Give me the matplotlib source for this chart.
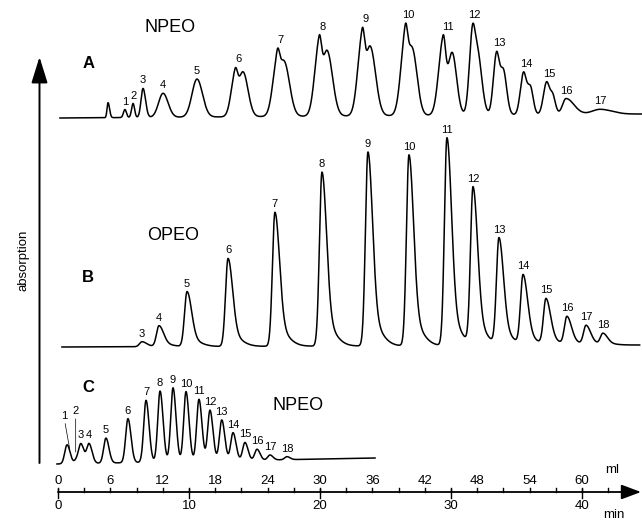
import numpy as np
import matplotlib
matplotlib.use('Agg')
import matplotlib.pyplot as plt

plt.rcParams['font.family'] = ['Liberation Sans', 'DejaVu Sans']

# pixel per minute of the time axis (peak widths below are given in pixels)
PX = 13.1

# --- trace A: NPEO ---
# label, retention time [min], apparent height, left / right width [px]
a_lab = ['', '1', '2', '3', '4', '5', '6', '7', '8', '9', '10', '11', '12', '13', '14', '15', '16', '17']
a_t = [3.82, 5.11, 5.73, 6.49, 8.02, 10.61, 13.51, 16.72, 19.92, 23.21, 26.49, 29.39, 31.60, 33.44, 35.50, 37.25, 38.78, 41.37]
a_h = [15, 8, 14, 29, 24, 38, 48, 66, 80, 87, 90, 80, 87, 62, 42, 32, 16, 5]
a_sl = [1.0, 1.5, 1.5, 2.0, 4.5, 5.0, 4.0, 4.5, 4.5, 4.5, 4.5, 4.5, 3.0, 3.0, 3.0, 3.0, 3.5, 8.0]
a_sr = [1.5, 1.5, 1.5, 2.5, 5.0, 5.5, 5.0, 5.5, 5.5, 5.5, 5.0, 4.5, 4.5, 3.5, 3.0, 3.0, 8.0, 12.0]
# shoulders on the right flank of the main peaks (0 = none)
a_sh_t = [0, 0, 0, 0, 0, 0, 14.12, 17.25, 20.53, 23.82, 27.02, 30.08, 31.98, 33.97, 36.03, 37.71, 0, 0]
a_sh_h = [0, 0, 0, 0, 0, 0, 45, 56, 66, 70, 69, 63, 73, 47, 30, 23, 0, 0]
a_base = [403, 407]

# --- trace B: OPEO ---
b_lab = ['3', '4', '5', '6', '7', '8', '9', '10', '11', '12', '13', '14', '15', '16', '17', '18']
b_t = [6.41, 7.71, 9.85, 12.98, 16.56, 20.15, 23.66, 26.79, 29.69, 31.68, 33.66, 35.5, 37.25, 38.85, 40.31, 41.6]
b_h = [5, 21, 55, 88, 134, 174, 194, 191, 208, 159, 108, 71, 47, 29, 20, 12]
b_base = [174, 176]

# --- trace C: NPEO, short column ---
c_lab = ['1', '2', '3', '4', '5', '6', '7', '8', '9', '10', '11', '12', '13', '14', '15', '16', '17', '18']
c_t = [0.69, 1.45, 1.76, 2.37, 3.66, 5.34, 6.72, 7.79, 8.78, 9.77, 10.76, 11.6, 12.5, 13.36, 14.27, 15.19, 16.18, 17.48]
c_h = [19, 8, 20, 20, 25, 44, 62, 71, 74, 70, 62, 51, 41, 28, 18, 11, 5, 3]
c_base = [57, 63]

# axis scales
ml_ticks = np.arange(0, 64, 3)
ml_labels = np.arange(0, 61, 6)
min_labels = [0, 10, 20, 30, 40]
ML_PER_MIN = 1.5


def bigauss(t, t0, sl, sr):
    s = np.where(t < t0, sl, sr) / PX
    return np.exp(-0.5 * ((t - t0) / s) ** 2)


def tailed(t, t0, sl, sr):
    return 0.85 * bigauss(t, t0, sl, sr) + 0.15 * bigauss(t, t0, sl, 11)


def trace(t, base, comps, heights, shape=bigauss):
    # pick component heights so the summed trace hits the read heights
    tc = np.array([c[0] for c in comps])
    M = np.array([[shape(np.array([ti]), *c)[0] for c in comps] for ti in tc])
    h = np.linalg.solve(M, np.asarray(heights, dtype=float))
    y = np.linspace(base[0], base[1], len(t))
    for hj, c in zip(h, comps):
        y = y + hj * shape(t, *c)
    return y


fig = plt.figure(figsize=(6.42, 5.21), dpi=100)
ax = fig.add_axes([0, 0, 1, 1])
ax.set_xlim(-58 / PX, (642 - 58) / PX)
ax.set_ylim(0, 521)
ax.axis('off')

lw = 1.1
fs_pk = 8

# trace A
ta = np.linspace(0.15, 44.6, 5000)
comps, heights = [], []
for t0, h, sl, sr, st, sh in zip(a_t, a_h, a_sl, a_sr, a_sh_t, a_sh_h):
    if sh:
        comps += [(t0, sl, 2.5), (st, 4.5, sr)]
        heights += [h, sh]
    else:
        comps.append((t0, sl, sr))
        heights.append(h)
ya = trace(ta, a_base, comps, heights)
ax.plot(ta, ya, color='black', lw=lw)
for lab, t0, st in zip(a_lab, a_t, a_sh_t):
    if not lab:
        continue
    xm = (t0 + st) / 2 if st else t0
    lo, hi = (t0 - 0.05, st) if st else (t0 - 0.1, t0 + 0.1)
    top = ya[(ta >= lo) & (ta <= hi)].max()
    ax.text(xm, top + 3, lab, ha='center', va='bottom', fontsize=fs_pk)

# trace B
tb = np.linspace(0.3, 44.4, 5000)
yb = trace(tb, b_base, [(t0, 2.5, 4.5) for t0 in b_t], b_h, shape=tailed)
ax.plot(tb, yb, color='black', lw=lw)
for lab, t0 in zip(b_lab, b_t):
    top = yb[np.abs(tb - t0) < 0.1].max()
    ax.text(t0, top + 3, lab, ha='center', va='bottom', fontsize=fs_pk)

# trace C
tc = np.linspace(-0.08, 24.2, 4000)
yc = trace(tc, c_base, [(t0, 2.3, 3.0) for t0 in c_t], c_h)
ax.plot(tc, yc, color='black', lw=lw)
for lab, t0 in zip(c_lab, c_t):
    top = yc[np.abs(tc - t0) < 0.1].max()
    if lab == '1':
        ax.annotate(lab, xy=(t0 + 0.2, top - 4), xytext=(t0 - 0.25, top + 24),
                    ha='center', va='bottom', fontsize=fs_pk,
                    arrowprops=dict(arrowstyle='-', lw=0.5, shrinkA=0, shrinkB=0))
    elif lab == '2':
        ax.annotate(lab, xy=(t0 - 0.1, top - 1), xytext=(t0 - 0.1, top + 35),
                    ha='center', va='bottom', fontsize=fs_pk,
                    arrowprops=dict(arrowstyle='-', lw=0.5, shrinkA=0, shrinkB=0))
    else:
        ax.text(t0, top + 3, lab, ha='center', va='bottom', fontsize=fs_pk)

# trace names
ax.text(8.55, 493, 'NPEO', ha='center', va='center', fontsize=13)
ax.text(8.78, 285, 'OPEO', ha='center', va='center', fontsize=13)
ax.text(18.32, 116, 'NPEO', ha='center', va='center', fontsize=13)
ax.text(2.37, 458, 'A', ha='center', va='center', fontsize=12, fontweight='bold')
ax.text(2.29, 244, 'B', ha='center', va='center', fontsize=12, fontweight='bold')
ax.text(2.29, 133, 'C', ha='center', va='center', fontsize=12, fontweight='bold')

# vertical absorption arrow
xv = (39.5 - 58) / PX
ax.annotate('', xy=(xv, 521 - 57), xytext=(xv, 521 - 463),
            arrowprops=dict(arrowstyle='-|>,head_length=1.6,head_width=0.5',
                            mutation_scale=10, lw=1.4, color='black',
                            shrinkA=0, shrinkB=0))
ax.text((23 - 58) / PX, 261, 'absorption', rotation=90, ha='center', va='center', fontsize=9.5)

# bottom double axis (ml above, min below)
y_ax = 29
ax.annotate('', xy=(44.5, y_ax), xytext=(0, y_ax),
            arrowprops=dict(arrowstyle='-|>,head_length=1.2,head_width=0.45',
                            mutation_scale=10, lw=1.3, color='black',
                            shrinkA=0, shrinkB=0))
for m in ml_ticks:
    ax.plot([m / ML_PER_MIN] * 2, [y_ax, y_ax + 4], color='black', lw=1.0)
for m in ml_labels:
    ax.text(m / ML_PER_MIN, y_ax + 11, str(m), ha='center', va='center', fontsize=9.5)
for m in min_labels:
    ax.plot([m, m], [y_ax + 3, y_ax - 6], color='black', lw=1.0)
    ax.text(m, y_ax - 14, str(m), ha='center', va='center', fontsize=9.5)
ax.text((612 - 58) / PX, 51, 'ml', ha='center', va='center', fontsize=9.5)
ax.text((614 - 58) / PX, 6, 'min', ha='center', va='center', fontsize=9.5)

fig.savefig('out.png', dpi=100)
